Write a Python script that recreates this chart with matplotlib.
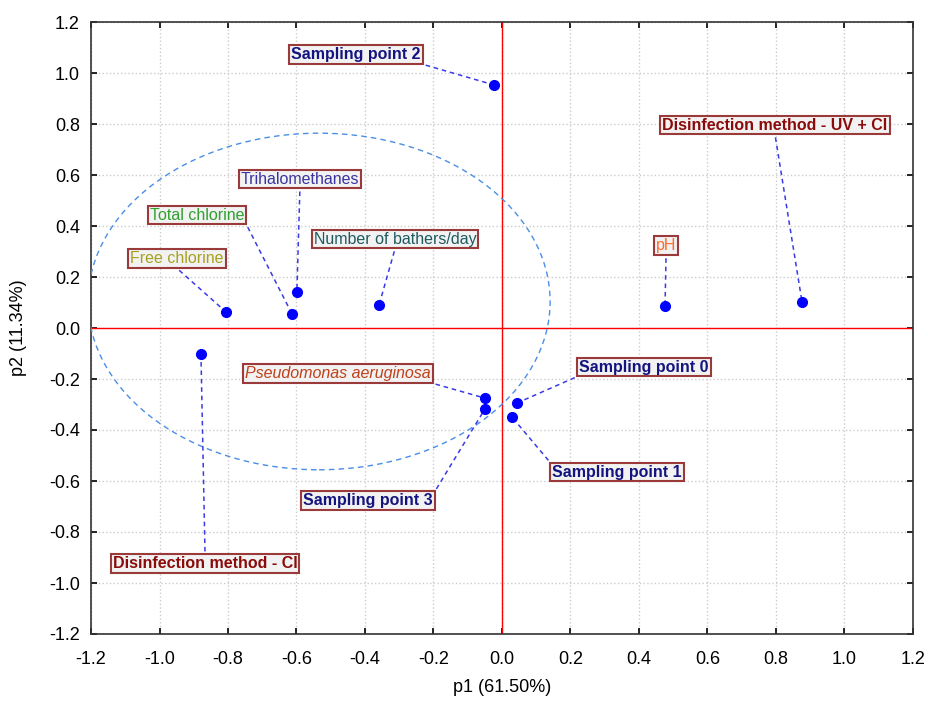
import numpy as np
import matplotlib.pyplot as plt
from matplotlib.patches import Ellipse

plt.rcParams['font.family'] = ['Liberation Sans', 'DejaVu Sans']

# loadings / scores
names = ['Sampling point 2', 'Disinfection method - UV + Cl', 'pH', 'Free chlorine',
         'Total chlorine', 'Trihalomethanes', 'Number of bathers/day',
         'Disinfection method - Cl', 'Pseudomonas aeruginosa', 'Sampling point 3',
         'Sampling point 0', 'Sampling point 1']
p1 = [-0.023, 0.876, 0.476, -0.806, -0.613, -0.599, -0.359, -0.879, -0.050, -0.050, 0.044, 0.029]
p2 = [0.953, 0.102, 0.086, 0.063, 0.055, 0.141, 0.090, -0.102, -0.275, -0.318, -0.294, -0.349]

# label positions
lab_x = [-0.426, 0.797, 0.479, -0.949, -0.890, -0.590, -0.312, -0.867, -0.479, -0.391, 0.415, 0.336]
lab_y = [1.071, 0.796, 0.322, 0.271, 0.443, 0.584, 0.349, -0.925, -0.180, -0.678, -0.153, -0.565]
# where the leader leaves the label box
rel = [(1, 0), (0.5, 0), (0.5, 0), (0.5, 0), (1, 0), (0.5, 0), (0.5, 0),
       (0.5, 1), (1, 0), (1, 1), (0, 0), (0, 1)]

colors = ['#141480', '#8b0a0a', '#ff6a2a', '#a8a020', '#30a030', '#3a34a0', '#1e5a60',
          '#8b0a0a', '#c0401a', '#141480', '#141480', '#141480']
weights = ['bold', 'bold', 'normal', 'normal', 'normal', 'normal', 'normal',
           'bold', 'normal', 'bold', 'bold', 'bold']
styles = ['normal'] * 8 + ['italic'] + ['normal'] * 3

fig = plt.figure(figsize=(9.29, 7.02), dpi=100)
ax = fig.add_axes([91 / 929, 1 - 634 / 702, 822 / 929, 612 / 702])

ax.set_xlim(-1.2, 1.2)
ax.set_ylim(-1.2, 1.2)
ticks = np.arange(-1.2, 1.21, 0.2)
ax.set_xticks(ticks)
ax.set_yticks(ticks)
ax.set_xticklabels(['%.1f' % t if abs(t) > 1e-9 else '0.0' for t in ticks])
ax.set_yticklabels(['%.1f' % t if abs(t) > 1e-9 else '0.0' for t in ticks])
ax.tick_params(direction='in', top=True, right=True, labelsize=13, length=4, width=1.2)
ax.tick_params(axis='x', pad=12)
ax.tick_params(axis='y', pad=8)
ax.grid(True, linestyle=':', color='#cccccc', linewidth=1)
for s in ax.spines.values():
    s.set_color('#333333')
    s.set_linewidth(1.2)

ax.axhline(0, color='#ff0000', linewidth=1, zorder=2)
ax.axvline(0, color='#ff0000', linewidth=1, zorder=2)

ax.add_patch(Ellipse((-0.534, 0.104), 1.349, 1.32, fill=False,
                     edgecolor='#4a8ee6', linestyle=(0, (4, 3)), linewidth=1, zorder=3))

texts = []
for i, n in enumerate(names):
    t = ax.text(lab_x[i], lab_y[i], n, ha='center', va='center', fontsize=11.5,
                color=colors[i], fontweight=weights[i], fontstyle=styles[i],
                bbox=dict(boxstyle='square,pad=0.12', facecolor='#f2f2f2',
                          edgecolor='#9a3a3a', linewidth=1.5),
                zorder=5)
    texts.append(t)

# leader lines from the label box edge to the point
fig.canvas.draw()
renderer = fig.canvas.get_renderer()
inv = ax.transData.inverted()
for i, t in enumerate(texts):
    bb = t.get_bbox_patch().get_window_extent(renderer)
    sx = bb.x0 + rel[i][0] * bb.width
    sy = bb.y0 + rel[i][1] * bb.height
    # nudge a few pixels away from the box
    px, py = ax.transData.transform((p1[i], p2[i]))
    d = np.hypot(px - sx, py - sy)
    sx += (px - sx) / d * 3
    sy += (py - sy) / d * 3
    x0, y0 = inv.transform((sx, sy))
    ax.plot([x0, p1[i]], [y0, p2[i]], color='#3a3ae8', linestyle=(0, (3, 2.5)),
            linewidth=1.1, zorder=4)

ax.plot(p1, p2, 'o', color='#0000ff', markersize=7, zorder=6)

ax.set_xlabel('p1 (61.50%)', fontsize=13, labelpad=8)
ax.set_ylabel('p2 (11.34%)', fontsize=13, labelpad=16)

fig.savefig('out.png', dpi=100)
